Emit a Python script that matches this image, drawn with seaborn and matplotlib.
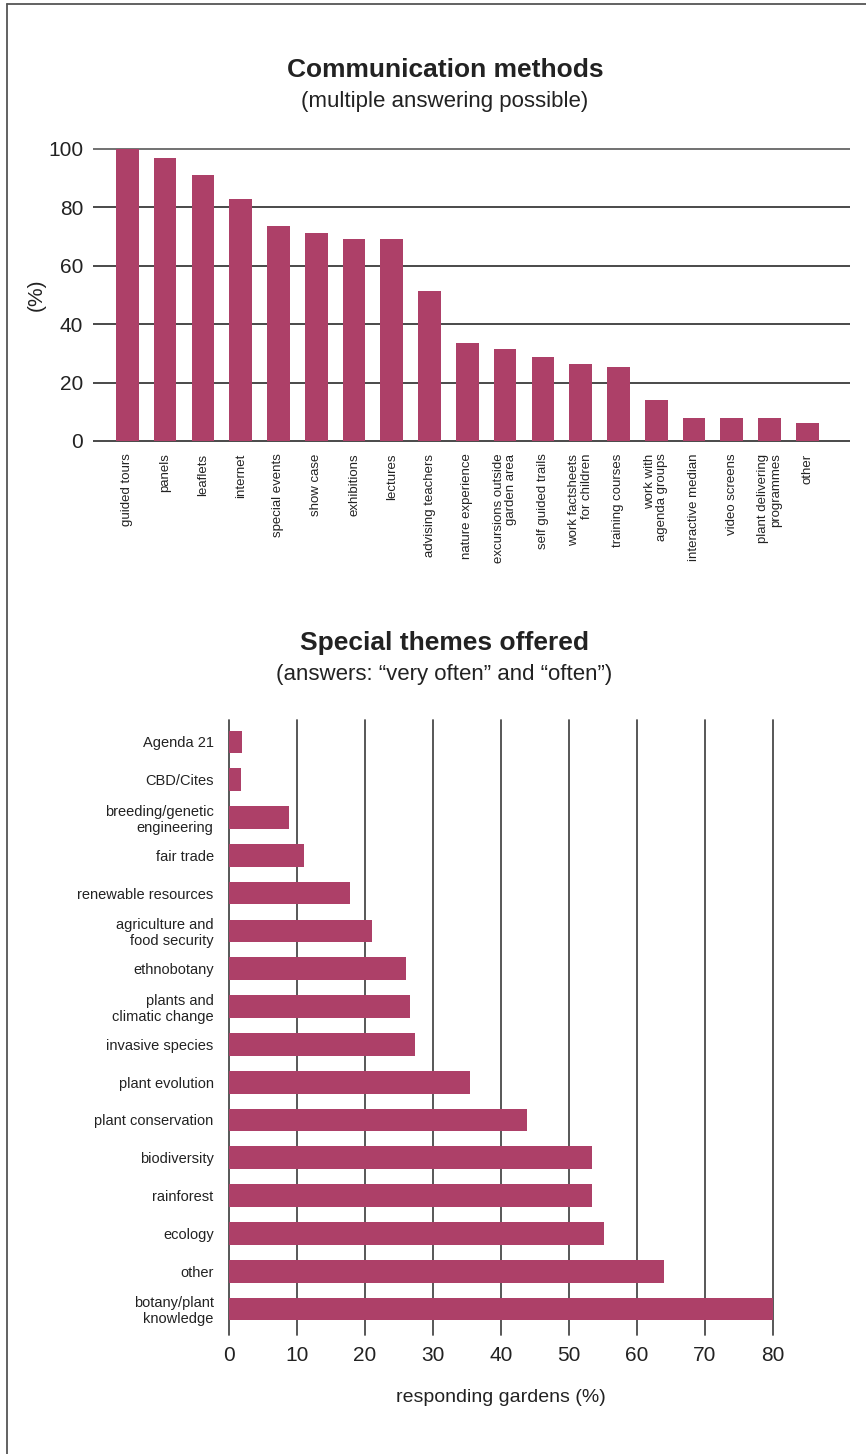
import matplotlib
matplotlib.use("Agg")
import seaborn as sns
from matplotlib import pyplot as plt
from matplotlib.lines import Line2D

# --- data ---
methods = ["guided tours", "panels", "leaflets", "internet", "special events",
           "show case", "exhibitions", "lectures", "advising teachers",
           "nature experience", "excursions outside\ngarden area",
           "self guided trails", "work factsheets\nfor children",
           "training courses", "work with\nagenda groups", "interactive median",
           "video screens", "plant delivering\nprogrammes", "other"]
methods_pct = [100, 96.9, 91.1, 82.9, 73.7, 71.3, 69.3, 69.3, 51.5,
               33.4, 31.4, 28.7, 26.3, 25.3, 14.0, 7.8, 7.8, 7.8, 6.1]

themes = ["Agenda 21", "CBD/Cites", "breeding/genetic\nengineering", "fair trade",
          "renewable resources", "agriculture and\nfood security", "ethnobotany",
          "plants and\nclimatic change", "invasive species", "plant evolution",
          "plant conservation", "biodiversity", "rainforest", "ecology", "other",
          "botany/plant\nknowledge"]
themes_pct = [1.9, 1.8, 8.8, 11.0, 17.8, 21.0, 26.0, 26.6, 27.4, 35.5,
              43.8, 53.4, 53.4, 55.1, 64.0, 80.0]

bar_color = "#ad4068"
grid_color = "#3a3a3a"
text_color = "#222222"

sns.set_theme(style="white", rc={"figure.figsize": (8.66, 14.54)})
plt.rcParams['font.family'] = ['Liberation Sans', 'DejaVu Sans']
plt.rcParams['text.color'] = text_color
plt.rcParams['axes.labelcolor'] = text_color
plt.rcParams['xtick.color'] = text_color
plt.rcParams['ytick.color'] = text_color

fig = plt.figure(figsize=(8.66, 14.54), dpi=100)
fig.patch.set_facecolor("white")

# ---- top chart: communication methods ----
ax1 = fig.add_axes([0.1074, 0.6957, 0.8741, 0.2029])
sns.barplot(x=methods, y=methods_pct, color=bar_color, width=0.6,
            saturation=1, linewidth=0, ax=ax1, zorder=3)
ax1.set_xlim(-0.91, 19.13)
ax1.set_ylim(-0.5, 100.5)
ax1.set_yticks([0, 20, 40, 60, 80, 100])
for v in [0, 20, 40, 60, 80, 100]:
    ax1.axhline(v, color=grid_color if v < 100 else "#666666", lw=1.3, zorder=1)
for s in ax1.spines.values():
    s.set_visible(False)
ax1.tick_params(axis="y", length=0, pad=7, labelsize=15)
ax1.tick_params(axis="x", length=0, pad=8)
ax1.set_xticks(range(len(methods)))
ax1.set_xticklabels(methods, rotation=90, ha="center", va="top",
                    multialignment="right", fontsize=9.5, linespacing=1.05)
ax1.set_ylabel("(%)", fontsize=15)
ax1.yaxis.set_label_coords(-0.062, 0.5)
ax1.set_xlabel("")

fig.text(0.514, 0.9519, "Communication methods", ha="center", va="center",
         fontsize=19, fontweight="bold")
fig.text(0.514, 0.9305, "(multiple answering possible)", ha="center", va="center",
         fontsize=16)

# ---- bottom chart: special themes ----
ax2 = fig.add_axes([0.2644, 0.0818, 0.6282, 0.4230])
sns.barplot(x=themes_pct, y=themes, color=bar_color, width=0.6, orient="h",
            saturation=1, linewidth=0, ax=ax2, zorder=3)
ax2.set_xlim(0, 80)
ax2.set_ylim(15.69, -0.58)
ax2.set_xticks(range(0, 81, 10))
for v in range(0, 81, 10):
    ax2.axvline(v, color="#4a4a4a", lw=1.3, zorder=1, clip_on=False)
for s in ax2.spines.values():
    s.set_visible(False)
ax2.tick_params(axis="x", length=0, pad=8, labelsize=15)
ax2.tick_params(axis="y", length=0, pad=11)
ax2.set_yticks(range(len(themes)))
ax2.set_yticklabels(themes, fontsize=10.5, linespacing=1.15)
ax2.set_xlabel("responding gardens (%)", fontsize=14, labelpad=17)
ax2.set_ylabel("")

fig.text(0.513, 0.5578, "Special themes offered", ha="center", va="center",
         fontsize=19, fontweight="bold")
fig.text(0.513, 0.5364, "(answers: \u201cvery often\u201d and \u201coften\u201d)",
         ha="center", va="center", fontsize=16)

# page frame (left and top edge)
fig.add_artist(Line2D([7 / 866, 7 / 866], [0, 1 - 4 / 1454], color="#555555", lw=1.3))
fig.add_artist(Line2D([7 / 866, 1], [1 - 4 / 1454, 1 - 4 / 1454], color="#555555", lw=1.3))

fig.savefig("out.png", dpi=100, facecolor="white")
